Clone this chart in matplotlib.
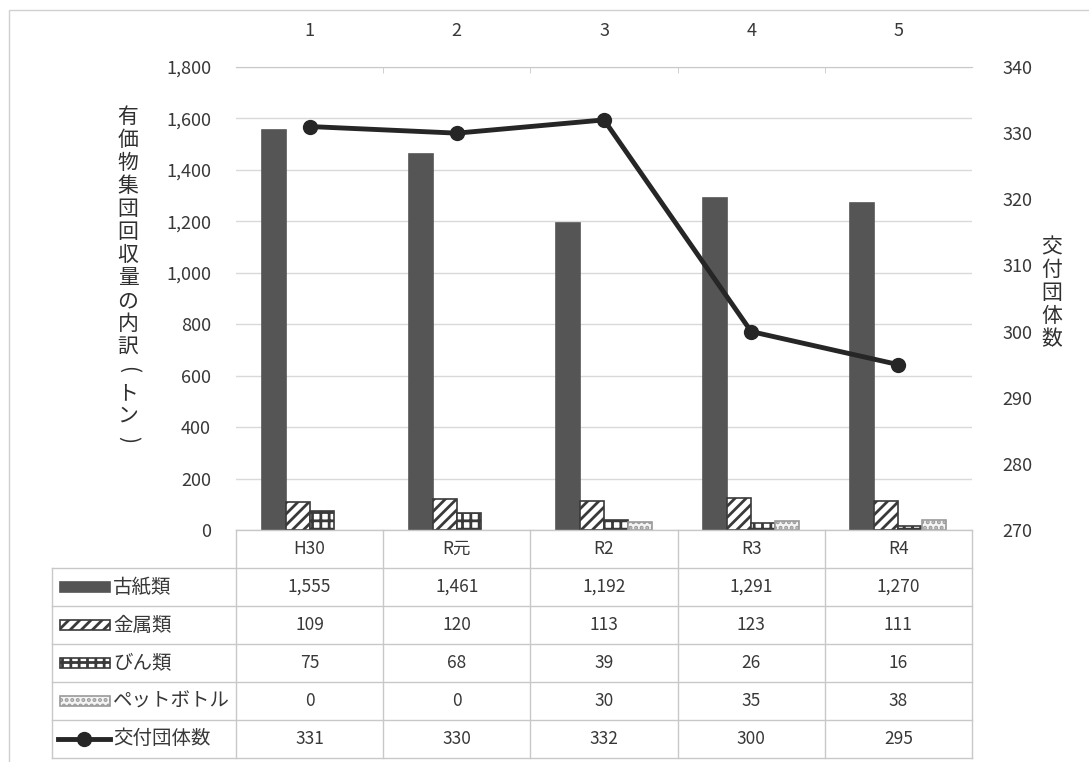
import matplotlib.pyplot as plt
from matplotlib.patches import Rectangle
from matplotlib.lines import Line2D

plt.rcParams['font.family'] = ['Noto Sans CJK JP', 'DejaVu Sans']
plt.rcParams['hatch.linewidth'] = 2.0

W, H = 1089, 762

years = ['H30', 'R元', 'R2', 'R3', 'R4']
top_labels = ['1', '2', '3', '4', '5']
kosi = [1555, 1461, 1192, 1291, 1270]
kinzoku = [109, 120, 113, 123, 111]
bin_ = [75, 68, 39, 26, 16]
pet = [0, 0, 30, 35, 38]
dantai = [331, 330, 332, 300, 295]

names = ['古紙類', '金属類', 'びん類', 'ペットボトル', '交付団体数']
rows = [kosi, kinzoku, bin_, pet, dantai]

# bar styles: facecolor, edgecolor, hatch
styles = [
    ('#555555', '#555555', None),
    ('white', '#3a3a3a', '///'),
    ('white', '#3a3a3a', '++'),
    ('#f4f4f4', '#9a9a9a', '...'),
]

GRAY = '#c8c8c8'
TXT = '#383838'


def fx(x):
    return x / W


def fy(y):
    return 1 - y / H


fig = plt.figure(figsize=(W / 100, H / 100), dpi=100)

# outer chart border
fig.add_artist(Rectangle((fx(9), fy(770)), fx(1100 - 9), fy(10) - fy(770),
                         transform=fig.transFigure, fill=False,
                         edgecolor='#d0d0d0', lw=1))

x0, x1, ytop, ybot = 236, 972, 67, 530
ax = fig.add_axes([fx(x0), fy(ybot), fx(x1 - x0), fy(ytop) - fy(ybot)])
ax2 = ax.twinx()

xs = list(range(len(years)))
bw = 0.163
series = [kosi, kinzoku, bin_, pet]
for i, (vals, (fc, ec, hatch)) in enumerate(zip(series, styles)):
    pos = [x + (i - 1.5) * bw for x in xs]
    ax.bar(pos, vals, width=bw, color=fc, edgecolor=ec, hatch=hatch,
           linewidth=[1.2 if v else 0 for v in vals], zorder=3)

ax.set_xlim(-0.5, len(years) - 0.5)
ax.set_ylim(0, 1800)
ax.set_yticks(range(0, 1801, 200))
ax.set_yticklabels([f'{v:,}' for v in range(0, 1801, 200)])
ax.yaxis.grid(True, color='#d9d9d9', lw=1)
ax.set_axisbelow(True)
ax.tick_params(axis='y', length=0, pad=18, labelsize=13, labelcolor=TXT)
ax.set_xticks(xs)
ax.set_xticklabels(top_labels)
ax.tick_params(axis='x', bottom=False, labelbottom=False, top=False,
               labeltop=True, pad=16, labelsize=13, labelcolor=TXT)
ax.set_xticks([x + 0.5 for x in xs[:-1]], minor=True)
ax.tick_params(axis='x', which='minor', top=True, bottom=False,
               direction='in', length=4, color=GRAY)
for s in ['left', 'right', 'bottom']:
    ax.spines[s].set_visible(False)
ax.spines['top'].set_color(GRAY)

ax2.plot(xs, dantai, color='#262626', lw=3.5, marker='o', markersize=10,
         zorder=5)
ax2.set_ylim(270, 340)
ax2.set_yticks(range(270, 341, 10))
ax2.tick_params(axis='y', length=0, pad=22, labelsize=13, labelcolor=TXT)
for s in ax2.spines.values():
    s.set_visible(False)
ax2.set_zorder(ax.get_zorder() + 1)
ax2.patch.set_visible(False)

# axis titles (vertical writing, one character per line)
ylab = '有価物集団回収量の内訳（トン）'
for k, ch in enumerate(ylab):
    if ch in '（）':
        # parentheses turn sideways in vertical writing
        ch = '(' if ch == '（' else ')'
        fig.text(fx(128), fy(117 + k * 23), ch, ha='center', va='center',
                 fontsize=15, color='#303030', rotation=-90)
    else:
        fig.text(fx(128), fy(117 + k * 23), ch, ha='center', va='center',
                 fontsize=15, color='#303030')
for k, ch in enumerate('交付団体数'):
    fig.text(fx(1052), fy(247 + k * 23), ch, ha='center', va='center',
             fontsize=15, color='#303030')

# data table
col_w = (x1 - x0) / len(years)
row_top = 530
hdr_h = 38
row_h = 38
lab_x0 = 52
tbl_bot = row_top + hdr_h + row_h * len(rows)


def hline(y, xa, xb):
    fig.add_artist(Line2D([fx(xa), fx(xb)], [fy(y), fy(y)],
                          transform=fig.transFigure, color=GRAY, lw=1))


def vline(x, ya, yb):
    fig.add_artist(Line2D([fx(x), fx(x)], [fy(ya), fy(yb)],
                          transform=fig.transFigure, color=GRAY, lw=1))


hline(row_top, x0, x1)
for r in range(len(rows) + 1):
    hline(row_top + hdr_h + r * row_h, lab_x0, x1)
vline(lab_x0, row_top + hdr_h, tbl_bot)
for c in range(len(years) + 1):
    vline(x0 + c * col_w, row_top, tbl_bot)

for c, yr in enumerate(years):
    fig.text(fx(x0 + (c + 0.5) * col_w), fy(row_top + hdr_h / 2), yr,
             ha='center', va='center', fontsize=12.5, color=TXT)

for r, (name, vals) in enumerate(zip(names, rows)):
    yc = row_top + hdr_h + (r + 0.5) * row_h
    for c, v in enumerate(vals):
        fig.text(fx(x0 + (c + 0.5) * col_w), fy(yc), f'{v:,}',
                 ha='center', va='center', fontsize=12.5, color=TXT)
    fig.text(fx(113), fy(yc), name, ha='left', va='center', fontsize=14,
             color=TXT)
    if r < 4:
        fc, ec, hatch = styles[r]
        fig.add_artist(Rectangle((fx(60), fy(yc + 5)), fx(50),
                                 fy(yc - 5) - fy(yc + 5),
                                 transform=fig.transFigure, facecolor=fc,
                                 edgecolor=ec, hatch=hatch, lw=1.2))
    else:
        fig.add_artist(Line2D([fx(58), fx(110)], [fy(yc), fy(yc)],
                              transform=fig.transFigure, color='#262626',
                              lw=3.5))
        fig.add_artist(Line2D([fx(84)], [fy(yc)], transform=fig.transFigure,
                              color='#262626', marker='o', markersize=10))

fig.savefig('out.png', dpi=100)
